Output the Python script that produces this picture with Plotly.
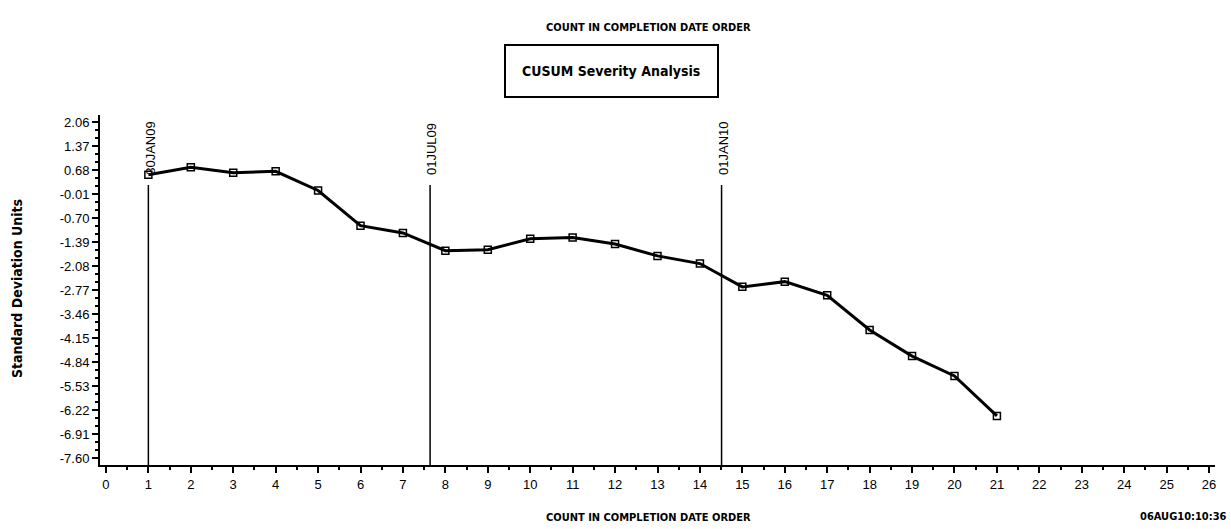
import plotly.graph_objects as go

# CUSUM values
count = list(range(1, 22))
cusum = [0.54, 0.76, 0.60, 0.64, 0.09, -0.92, -1.13, -1.64, -1.61, -1.30,
         -1.26, -1.45, -1.79, -2.01, -2.68, -2.53, -2.92, -3.92, -4.67, -5.24, -6.39]

# date reference lines
ref_x = [1, 7.64, 14.51]
ref_labels = ["30JAN09", "01JUL09", "01JAN10"]

y_ticks = [2.06, 1.37, 0.68, -0.01, -0.70, -1.39, -2.08, -2.77, -3.46,
           -4.15, -4.84, -5.53, -6.22, -6.91, -7.60]
y_ticktext = [f"{v:.2f}" for v in y_ticks]
x_ticks = list(range(0, 27))

FONT = "Liberation Sans Narrow, Arial, sans-serif"
BOLD = "DejaVu Sans Condensed, Liberation Sans Narrow, Arial, sans-serif"

# plot area in pixels: x 100..1215, y 115..465
def px(x):
    return (x - 100) / 1115

def py(y):
    return (465 - y) / 350

fig = go.Figure()

fig.add_trace(go.Scatter(
    x=count, y=cusum, mode="lines+markers",
    line=dict(color="black", width=3),
    marker=dict(symbol="square-open", size=7, color="black", line=dict(width=1.5, color="black")),
    showlegend=False, hoverinfo="x+y",
))

for xv, lab in zip(ref_x, ref_labels):
    fig.add_shape(type="line", x0=xv, x1=xv, y0=-7.8, y1=0.25,
                  xref="x", yref="y", line=dict(color="black", width=1.5))
    fig.add_annotation(x=xv, y=0.25, xref="x", yref="y", text=lab, textangle=-90,
                       showarrow=False, xanchor="center", yanchor="bottom",
                       xshift=2, yshift=8, font=dict(family="Liberation Sans, Arial", size=13, color="black"))

# title box
fig.add_shape(type="rect", xref="paper", yref="paper",
              x0=px(505), x1=px(718), y0=py(97), y1=py(45),
              line=dict(color="black", width=2), fillcolor="white")

texts = [
    ("<b>CUSUM Severity Analysis</b>", 611, 71, 14, "center", 0),
    ("<b>COUNT IN COMPLETION DATE ORDER</b>", 648, 27, 11, "center", 0),
    ("<b>COUNT IN COMPLETION DATE ORDER</b>", 648, 517, 11, "center", 0),
    ("<b>06AUG10:10:36</b>", 1229, 516, 11, "right", 0),
    ("<b>Standard Deviation Units</b>", 17, 289, 14, "center", -90),
]
for txt, x, y, size, xa, ang in texts:
    fig.add_annotation(text=txt, xref="paper", yref="paper", x=px(x), y=py(y),
                       showarrow=False, xanchor=xa, yanchor="middle", textangle=ang,
                       font=dict(family=BOLD, size=size, color="black"))

fig.update_layout(
    width=1231, height=529,
    margin=dict(l=100, r=16, t=115, b=64),
    paper_bgcolor="white", plot_bgcolor="white",
    font=dict(family=FONT, size=12, color="black"),
    xaxis=dict(
        range=[-0.14, 26.14], tickmode="array", tickvals=x_ticks, automargin=False,
        showgrid=False, zeroline=False, showline=True, linecolor="black", linewidth=2,
        ticks="outside", ticklen=6, tickwidth=2, tickcolor="black",
        minor=dict(tickmode="linear", tick0=0.5, dtick=1, ticks="outside", ticklen=3, tickwidth=2, tickcolor="black"),
        tickfont=dict(family=FONT, size=13),
    ),
    yaxis=dict(
        range=[-7.80, 2.26], tickmode="array", tickvals=y_ticks, ticktext=y_ticktext, automargin=False,
        showgrid=False, zeroline=False, showline=True, linecolor="black", linewidth=2,
        ticks="outside", ticklen=6, tickwidth=1.5, tickcolor="black",
        minor=dict(tickmode="linear", tick0=-7.60, dtick=0.23, ticks="outside", ticklen=3, tickwidth=1.5, tickcolor="black"),
        tickfont=dict(family=FONT, size=13),
    ),
)

fig.write_html("out.html", config={"displayModeBar": False},
               post_script="document.body.style.margin='0';")
